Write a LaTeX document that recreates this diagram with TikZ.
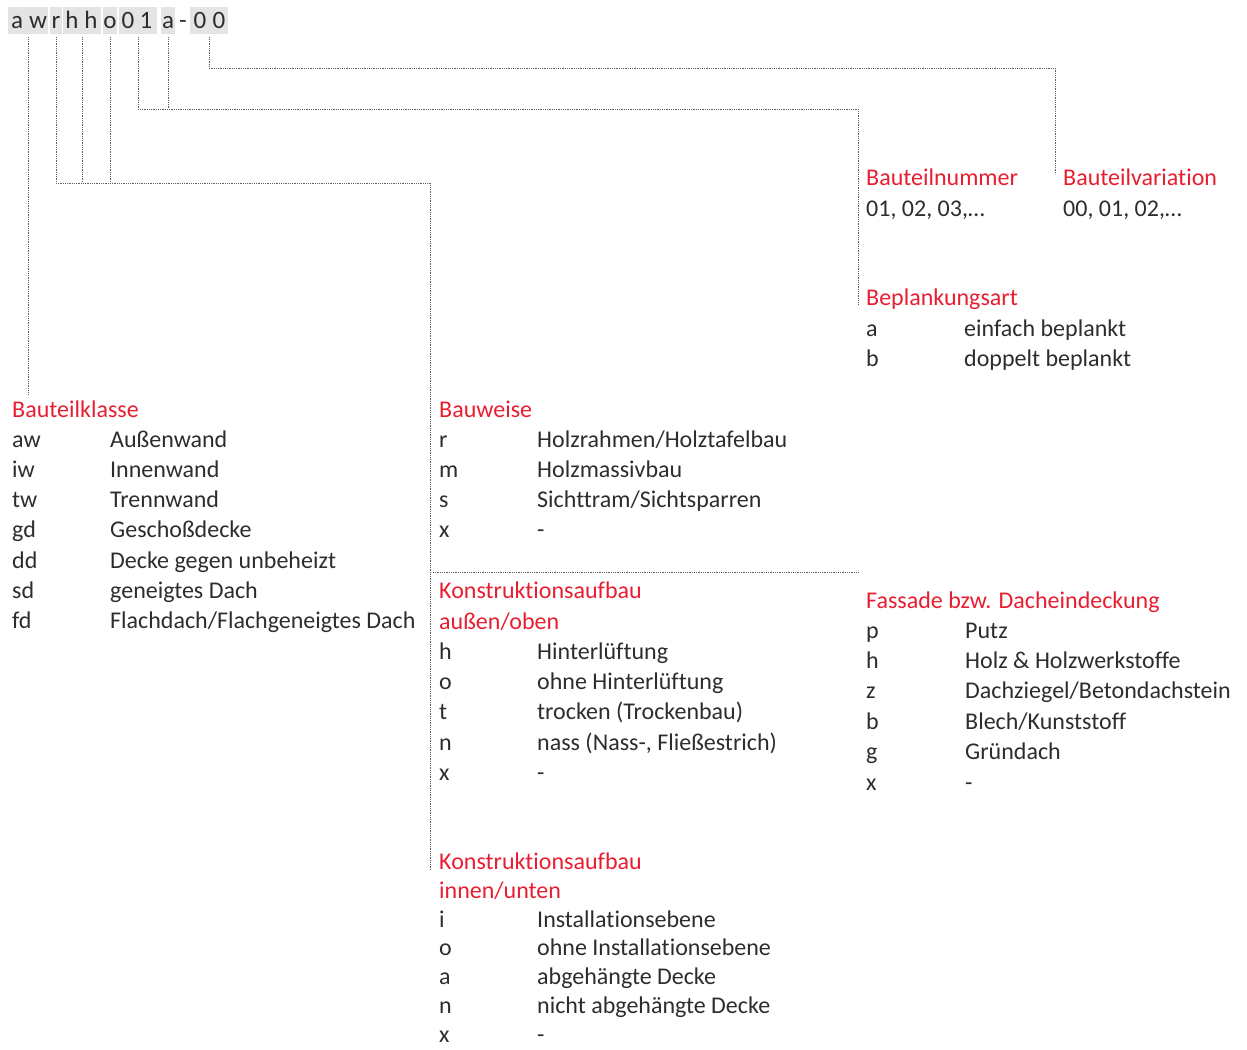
\documentclass[tikz,border=0pt]{standalone}
\usepackage{fontspec}
\setmainfont{Carlito}[Ligatures={NoCommon}]
\definecolor{hdr}{RGB}{232,30,48}
\definecolor{txt}{RGB}{45,45,45}
\definecolor{boxbg}{RGB}{228,228,228}
\definecolor{ln}{RGB}{95,95,95}
\tikzset{
  lbl/.style={anchor=base west, inner sep=0pt, font=\fontsize{24}{30}\selectfont, text=txt},
  hd/.style={lbl, text=hdr},
  chr/.style={anchor=base, inner sep=0pt, font=\fontsize{25}{30}\selectfont, text=txt},
  cbox/.style={fill=boxbg, inner sep=0pt, minimum height=27pt},
  conn/.style={draw=ln, line width=0.9pt, dash pattern=on 0.9pt off 0.9pt, shorten <=3pt},
}
\begin{document}
\begin{tikzpicture}[x=1pt,y=-1pt]
\useasboundingbox (0,0) rectangle (1247,1049);

% code string with grey group boxes
\node[cbox, minimum width=40pt] (gAW) at (28,20.5) {};
\node[cbox, minimum width=12pt] (gR)  at (56,20.5) {};
\node[cbox, minimum width=38pt] (gHH) at (82,20.5) {};
\node[cbox, minimum width=14pt] (gO)  at (110,20.5) {};
\node[cbox, minimum width=38pt] (g01) at (138,20.5) {};
\node[cbox, minimum width=14pt] (gA)  at (168,20.5) {};
\node[cbox, minimum width=38pt] (g00) at (209,20.5) {};
\foreach \c/\x [count=\i] in {a/17,w/38,r/56,h/72,h/91,o/110,0/128,1/146,a/168,-/183,0/200,0/219}
  \node[chr] (ch\i) at (\x,29) {\c};

% junction and end points of the connectors
\coordinate (eKl) at (28,395);
\coordinate (jB) at (430,183);
\coordinate (eB) at (430,870);
\coordinate (jF) at (430,572);
\coordinate (eF) at (858,572);
\coordinate (jN) at (858,109);
\coordinate (eN) at (858,305);
\coordinate (jV) at (1055,68);
\coordinate (eV) at (1055,174);

% connectors
\draw[conn] (gAW.south) -- (gAW.south |- eKl);
\draw[conn] (gR.south) -- (gR.south |- jB) -- (jB) -- (eB);
\draw[conn] (gHH.south) -- (gHH.south |- jB);
\draw[conn] (gO.south) -- (gO.south |- jB);
\draw[conn] (jF) -- (eF);
\draw[conn] (g01.south) -- (g01.south |- jN) -- (jN) -- (eN);
\draw[conn] (gA.south) -- (gA.south |- jN);
\draw[conn] (g00.south) -- (g00.south |- jV) -- (jV) -- (eV);

% Bauteilklasse
\node[hd] (hKl) at (12,417) {Bauteilklasse};
\foreach \k/\d [count=\i from 0] in {aw/{Außenwand},iw/{Innenwand},tw/{Trennwand},gd/{Geschoßdecke},dd/{Decke gegen unbeheizt},sd/{geneigtes Dach},fd/{Flachdach/Flachgeneigtes Dach}}{
  \node[lbl] (klk\i) at (12,447+30.33*\i) {\k};
  \node[lbl] (kld\i) at (110,447+30.33*\i) {\d};
}

% Bauweise
\node[hd] (hBw) at (439,417) {Bauweise};
\foreach \k/\d [count=\i from 0] in {r/{Holzrahmen/Holztafelbau},m/{Holzmassivbau},s/{Sichttram/Sichtsparren},x/{-}}{
  \node[lbl] (bwk\i) at (439,447+30.33*\i) {\k};
  \node[lbl] (bwd\i) at (537,447+30.33*\i) {\d};
}

% Konstruktionsaufbau aussen/oben
\node[hd] (hKa1) at (439,598) {Konstruktionsaufbau};
\node[hd] (hKa2) at (439,629) {außen/oben};
\foreach \k/\d [count=\i from 0] in {h/{Hinterlüftung},o/{ohne Hinterlüftung},t/{trocken (Trockenbau)},n/{nass (Nass-, Fließestrich)},x/{-}}{
  \node[lbl] (kak\i) at (439,659+30.4*\i) {\k};
  \node[lbl] (kad\i) at (537,659+30.4*\i) {\d};
}

% Konstruktionsaufbau innen/unten
\node[hd] (hKi1) at (439,869) {Konstruktionsaufbau};
\node[hd] (hKi2) at (439,898) {innen/unten};
\foreach \k/\d [count=\i from 0] in {i/{Installationsebene},o/{ohne Installationsebene},a/{abgehängte Decke},n/{nicht abgehängte Decke},x/{-}}{
  \node[lbl] (kik\i) at (439,927+28.8*\i) {\k};
  \node[lbl] (kid\i) at (537,927+28.8*\i) {\d};
}

% Fassade bzw. Dacheindeckung
\node[hd] (hFa) at (866,608) {Fassade bzw. Dacheindeckung};
\foreach \k/\d [count=\i from 0] in {p/{Putz},h/{Holz \& Holzwerkstoffe},z/{Dachziegel/Betondachstein},b/{Blech/Kunststoff},g/{Gründach},x/{-}}{
  \node[lbl] (fak\i) at (866,638+30.4*\i) {\k};
  \node[lbl] (fad\i) at (965,638+30.4*\i) {\d};
}

% Bauteilnummer, Bauteilvariation
\node[hd] (hNr) at (866,185) {Bauteilnummer};
\node[lbl] (vNr) at (866,216) {01, 02, 03,…};
\node[hd] (hVa) at (1063,185) {Bauteilvariation};
\node[lbl] (vVa) at (1063,216) {00, 01, 02,…};

% Beplankungsart
\node[hd] (hBp) at (866,305) {Beplankungsart};
\node[lbl] (bpk0) at (866,336) {a};
\node[lbl] (bpd0) at (964,336) {einfach beplankt};
\node[lbl] (bpk1) at (866,366) {b};
\node[lbl] (bpd1) at (964,366) {doppelt beplankt};
\end{tikzpicture}
\end{document}
